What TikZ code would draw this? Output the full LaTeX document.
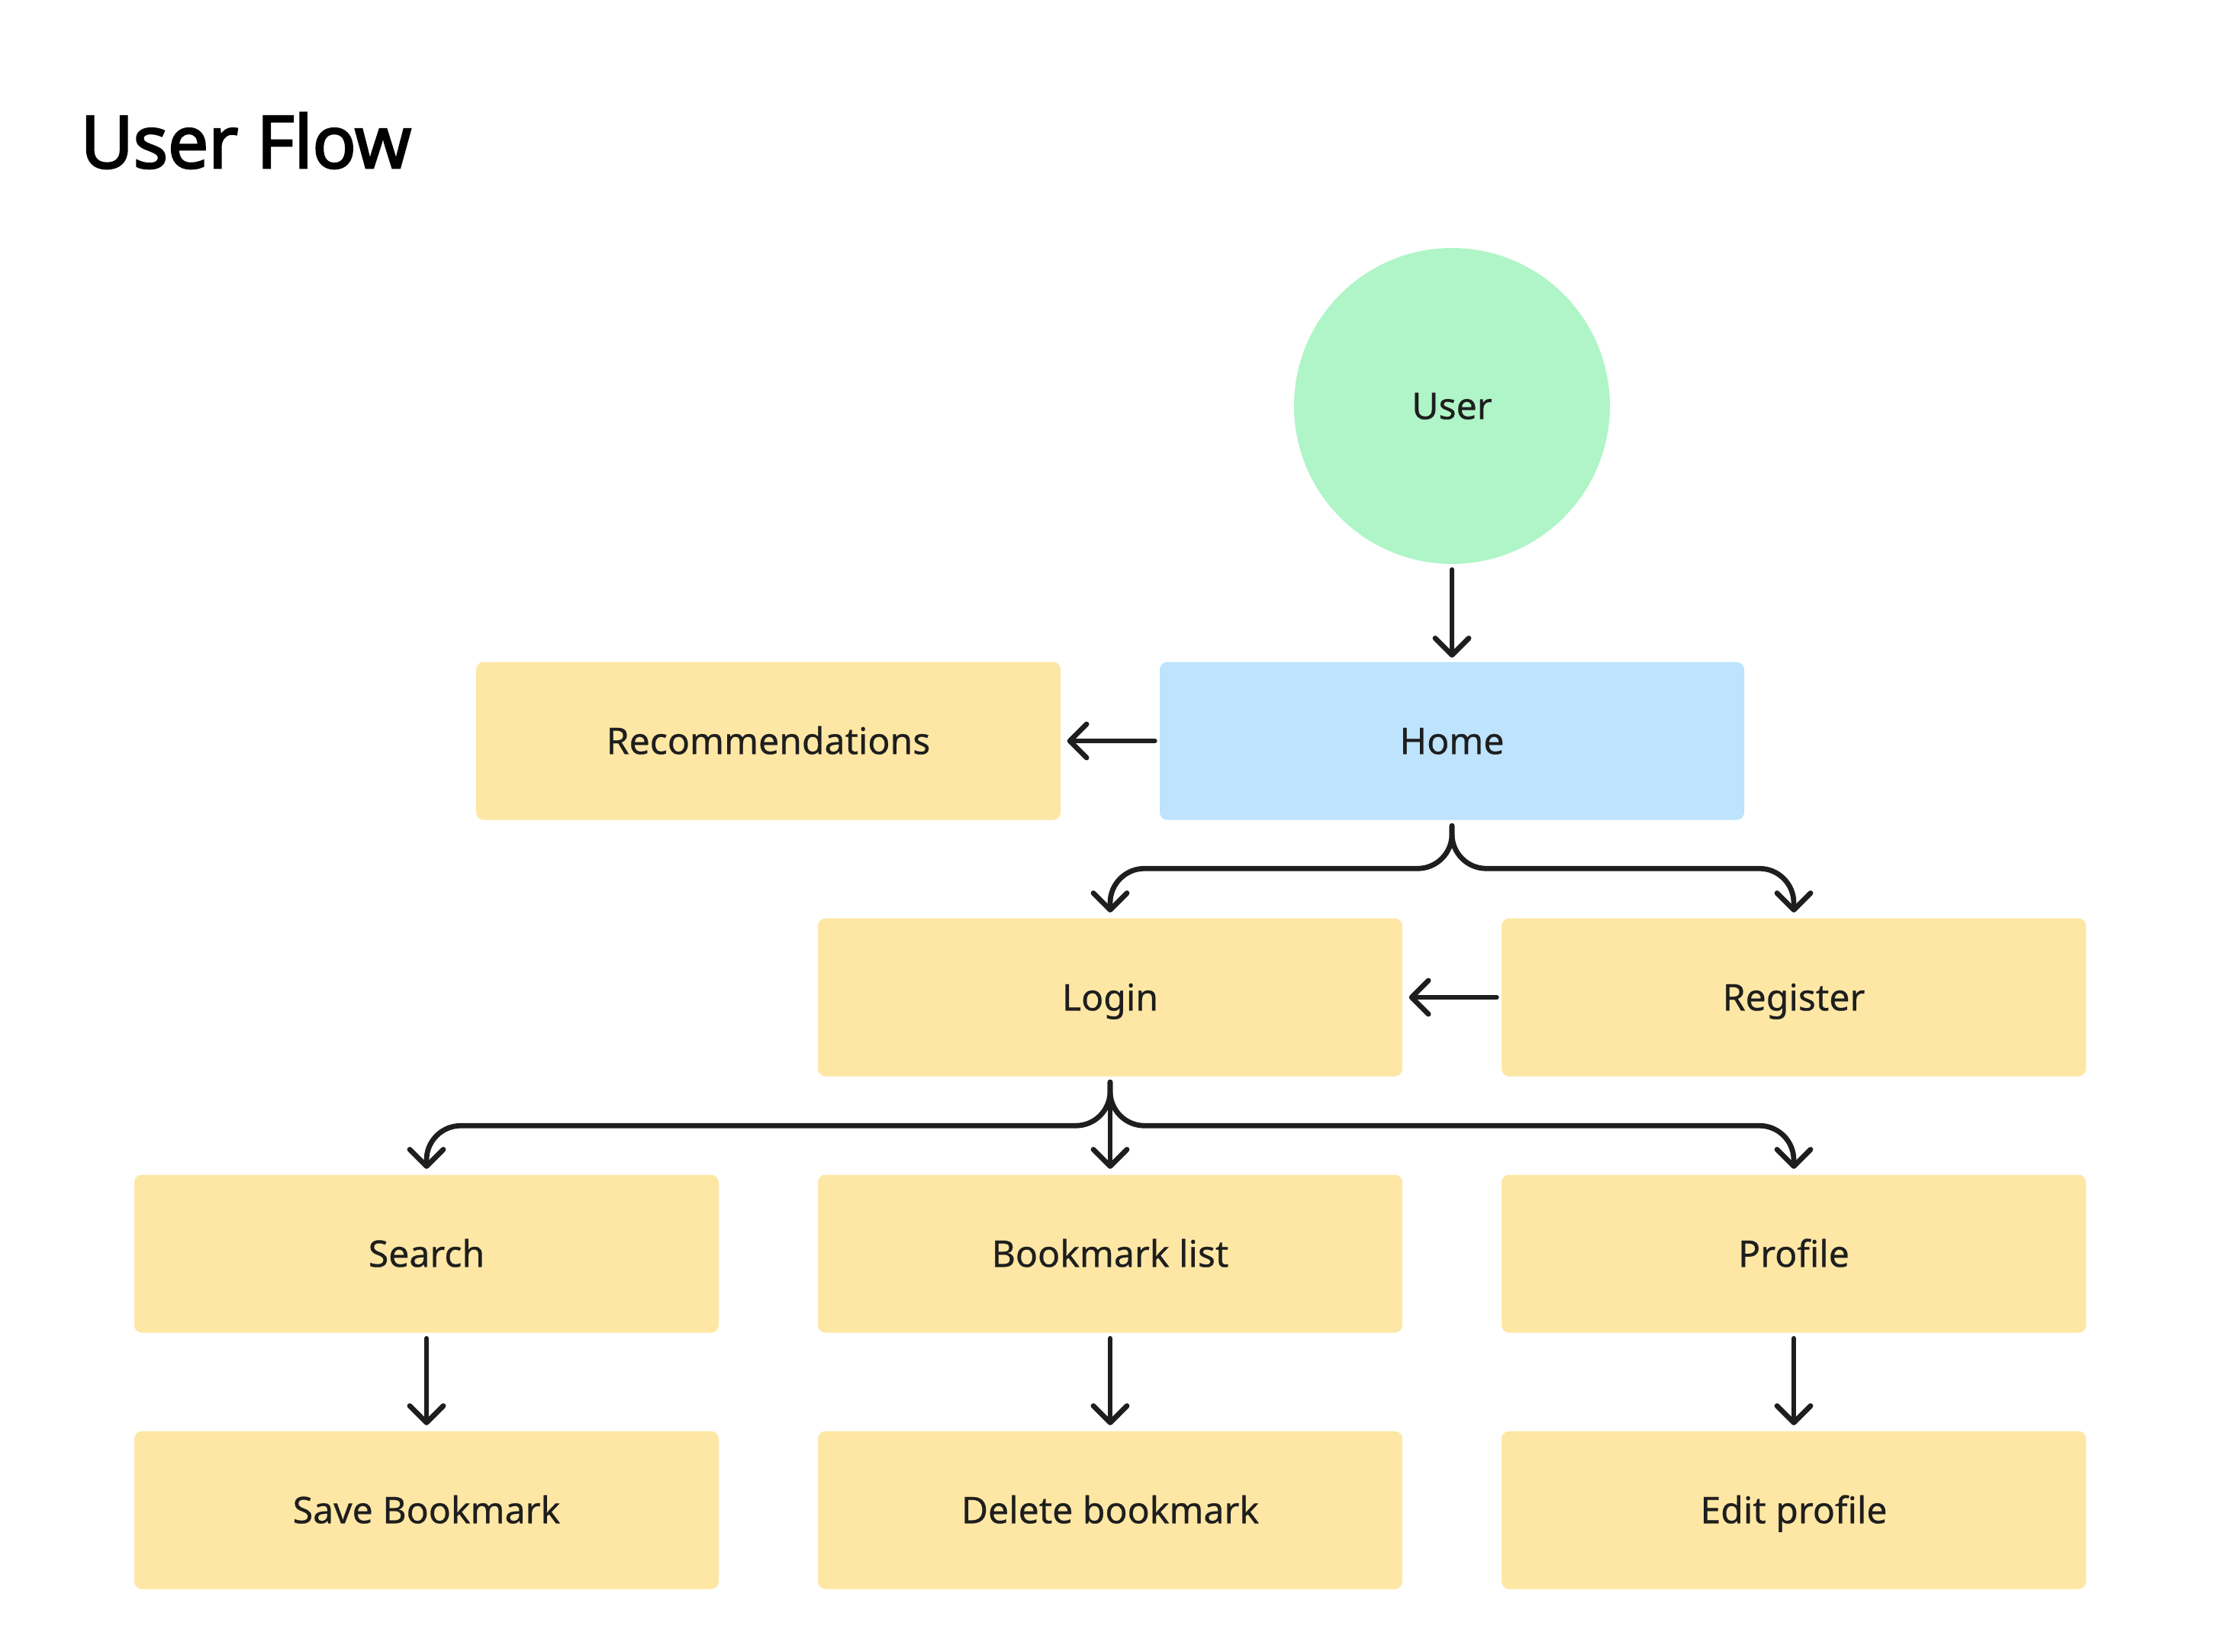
\documentclass[tikz,border=0pt]{standalone}
\usepackage{fontspec}
\setmainfont{Noto Sans}[BoldFont={Noto Sans}, BoldFeatures={FakeBold=0.5}]
\newfontfamily\titlefont{Open Sans}[BoldFont={Open Sans}, BoldFeatures={FakeBold=3}]
\usetikzlibrary{arrows.meta}

\definecolor{boxyellow}{HTML}{FEE7A4}
\definecolor{boxblue}{HTML}{BDE3FD}
\definecolor{boxgreen}{HTML}{AFF5C7}
\definecolor{ink}{HTML}{1E1E1E}

\tikzset{
    box/.style={rectangle, rounded corners=1mm, fill=boxyellow, text=ink,
        minimum width=7.66cm, minimum height=2.07cm, inner sep=0,
        text height=9.8pt, text depth=0pt,
        font=\fontsize{13.7}{16}\selectfont\bfseries},
    flow/.style={draw=ink, line width=0.68mm, line cap=round,
        -{Straight Barb[length=2.2mm, width=4.4mm, round]}},
}

\begin{document}
\begin{tikzpicture}
% Define grid
\def\dx{4.48}
\def\dy{3.36}
\def\gap{0.07}

\useasboundingbox (0,0) rectangle (29.28,-21.64);

% Title
\draw (1.05,-2.20) node[anchor=base west, inner sep=0, font=\titlefont\fontsize{27}{30}\selectfont\bfseries] (title) {User Flow};

% Nodes
\draw (19.03,-5.32) node[circle, fill=boxgreen, minimum size=4.14cm, inner sep=0, text=ink, text height=9.8pt, text depth=0pt, font=\fontsize{13.7}{16}\selectfont\bfseries] (user) {User};
\draw (19.03,-9.71) node[box, fill=boxblue] (home) {Home};
\draw (19.03-2*\dx,-9.71) node[box] (rec) {Recommendations};

\draw (19.03-\dx,-9.71-\dy) node[box] (login) {Login};
\draw (19.03+\dx,-9.71-\dy) node[box] (reg) {Register};

\draw (19.03-3*\dx,-9.71-2*\dy) node[box] (search) {Search};
\draw (19.03-\dx,-9.71-2*\dy) node[box] (list) {Bookmark list};
\draw (19.03+\dx,-9.71-2*\dy) node[box] (profile) {Profile};

\draw (19.03-3*\dx,-9.71-3*\dy) node[box] (save) {Save Bookmark};
\draw (19.03-\dx,-9.71-3*\dy) node[box] (delete) {Delete bookmark};
\draw (19.03+\dx,-9.71-3*\dy) node[box] (edit) {Edit profile};

% Arrows
\draw[flow] ([yshift=-\gap cm]user.south) -- ([yshift=0.05cm]home.north);
\draw[flow] ([xshift=-0.06cm]home.west) -- ([xshift=0.08cm]rec.east);

\draw[flow, rounded corners=0.45cm] ([yshift=-\gap cm]home.south) -- ++(0,-0.56) -| ([yshift=\gap cm]login.north);
\draw[flow, rounded corners=0.45cm] ([yshift=-\gap cm]home.south) -- ++(0,-0.56) -| ([yshift=\gap cm]reg.north);
\draw[flow] ([xshift=-0.06cm]reg.west) -- ([xshift=0.08cm]login.east);

\draw[flow, rounded corners=0.45cm] ([yshift=-\gap cm]login.south) -- ++(0,-0.57) -| ([yshift=\gap cm]search.north);
\draw[flow] ([yshift=-\gap cm]login.south) -- ([yshift=\gap cm]list.north);
\draw[flow, rounded corners=0.45cm] ([yshift=-\gap cm]login.south) -- ++(0,-0.57) -| ([yshift=\gap cm]profile.north);

\foreach \a/\b in {search/save, list/delete, profile/edit}
    \draw[flow] ([yshift=-\gap cm]\a.south) -- ([yshift=\gap cm]\b.north);
\end{tikzpicture}
\end{document}
